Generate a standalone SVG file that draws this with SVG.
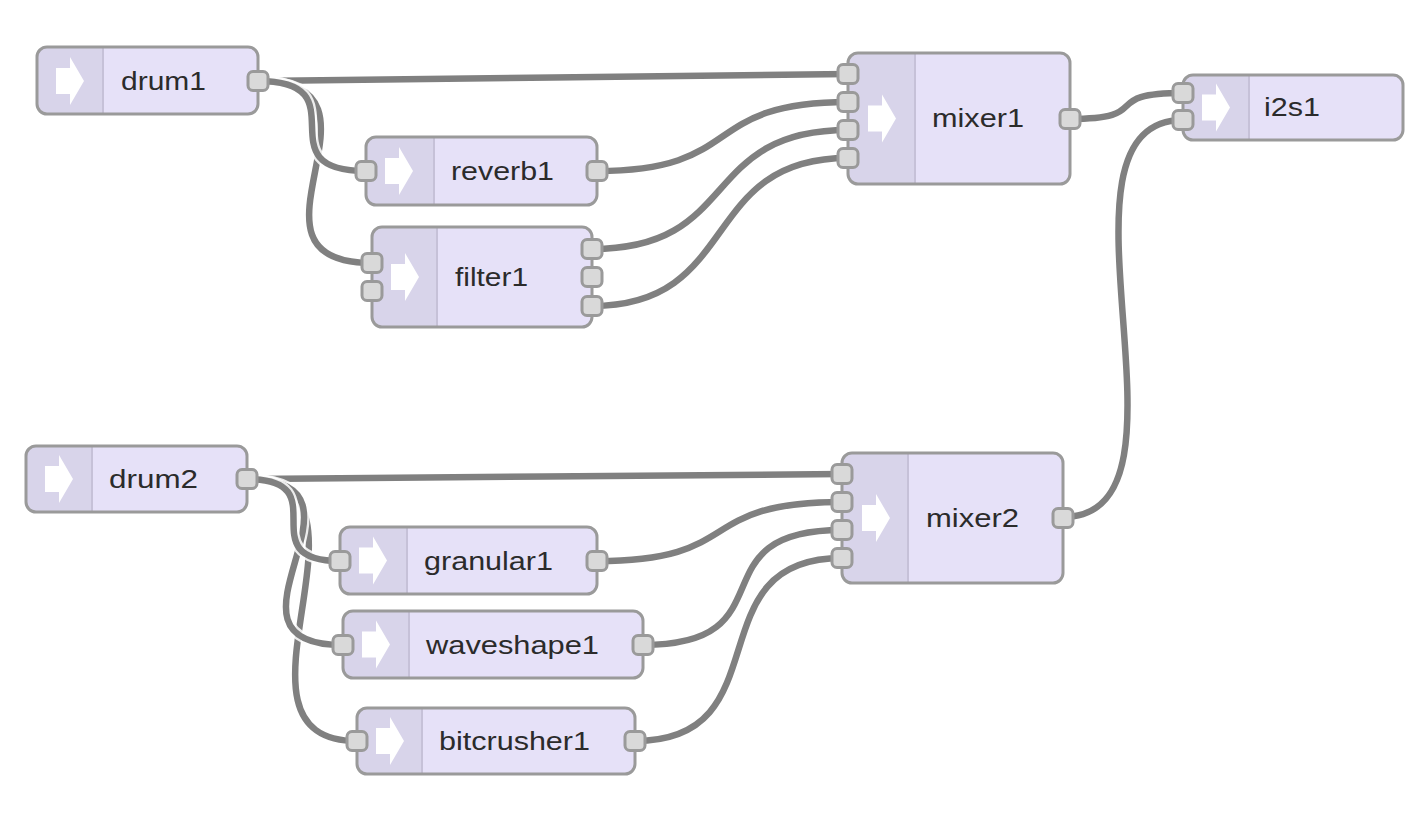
<svg xmlns="http://www.w3.org/2000/svg" width="1428" height="818" viewBox="0 0 1428 818">
<defs>
<style>
.body{fill:#e6e1f8;}
.shade{fill:#d8d4ea;}
.div{stroke:#c6c1d8;stroke-width:2;}
.border{fill:none;stroke:#9a9a9a;stroke-width:3;}
.port{fill:#d9d9d9;stroke:#9a9a9a;stroke-width:3;}
.lbl{font-family:"Liberation Sans",Arial,Helvetica,sans-serif;font-size:26px;fill:#2b2b2b;}
.icon{fill:#fff;filter:url(#soft);}
.wo{fill:none;stroke:#fff;stroke-width:11;stroke-opacity:0.85;}
.wl{fill:none;stroke:#808080;stroke-width:6.5;stroke-linecap:round;}
</style>
<filter id="soft" x="-20%" y="-20%" width="140%" height="140%"><feGaussianBlur stdDeviation="0.7"/></filter>
<path id="arr" d="M0,-13 H14 V-24 L28,0 L14,24 V13 H0 Z"/>
</defs>
<rect width="1428" height="818" fill="#fff"/>

<g id="connectors">
<path class="wo" d="M258,81 C408,81 698,74 848,74"/><path class="wl" d="M258,81 C408,81 698,74 848,74"/>
<path class="wo" d="M258,81 C408,81 222,263 372,263"/><path class="wl" d="M258,81 C408,81 222,263 372,263"/>
<path class="wo" d="M258,81 C363.5,81 260.5,171 366,171"/><path class="wl" d="M258,81 C363.5,81 260.5,171 366,171"/>
<path class="wo" d="M597,171 C747,171 698,102 848,102"/><path class="wl" d="M597,171 C747,171 698,102 848,102"/>
<path class="wo" d="M592,249 C742,249 698,130 848,130"/><path class="wl" d="M592,249 C742,249 698,130 848,130"/>
<path class="wo" d="M592,306 C742,306 698,158 848,158"/><path class="wl" d="M592,306 C742,306 698,158 848,158"/>
<path class="wo" d="M1070,119 C1157,119 1096,93 1183,93"/><path class="wl" d="M1070,119 C1157,119 1096,93 1183,93"/>
<path class="wo" d="M1063,517 C1213,517 1033,120 1183,120"/><path class="wl" d="M1063,517 C1213,517 1033,120 1183,120"/>
<path class="wo" d="M247,479 C397,479 692,474 842,474"/><path class="wl" d="M247,479 C397,479 692,474 842,474"/>
<path class="wo" d="M247,479 C397,479 207,741 357,741"/><path class="wl" d="M247,479 C397,479 207,741 357,741"/>
<path class="wo" d="M247,479 C391,479 199,645 343,645"/><path class="wl" d="M247,479 C391,479 199,645 343,645"/>
<path class="wo" d="M247,479 C340,479 247,561 340,561"/><path class="wl" d="M247,479 C340,479 247,561 340,561"/>
<path class="wo" d="M597,561 C747,561 692,502 842,502"/><path class="wl" d="M597,561 C747,561 692,502 842,502"/>
<path class="wo" d="M643,645 C793,645 692,530 842,530"/><path class="wl" d="M643,645 C793,645 692,530 842,530"/>
<path class="wo" d="M635,741 C785,741 692,558 842,558"/><path class="wl" d="M635,741 C785,741 692,558 842,558"/>
</g>

<g id="drum1">
<rect class="body" x="37" y="47" width="221" height="67" rx="10"/>
<path class="shade" d="M47,47 H103 V114 H47 A10,10 0 0 1 37,104 V57 A10,10 0 0 1 47,47 Z"/>
<line class="div" x1="103" y1="48" x2="103" y2="113"/>
<rect class="border" x="37" y="47" width="221" height="67" rx="10"/>
<use href="#arr" class="icon" x="56" y="81"/>
<text class="lbl" x="121" y="89.5" textLength="85" lengthAdjust="spacingAndGlyphs">drum1</text>
<rect class="port" x="248" y="71.5" width="20" height="19" rx="5"/>
</g>

<g id="reverb1">
<rect class="body" x="366" y="137" width="231" height="68" rx="10"/>
<path class="shade" d="M376,137 H434 V205 H376 A10,10 0 0 1 366,195 V147 A10,10 0 0 1 376,137 Z"/>
<line class="div" x1="434" y1="138" x2="434" y2="204"/>
<rect class="border" x="366" y="137" width="231" height="68" rx="10"/>
<use href="#arr" class="icon" x="385" y="171"/>
<text class="lbl" x="451" y="180" textLength="103" lengthAdjust="spacingAndGlyphs">reverb1</text>
<rect class="port" x="356" y="161.5" width="20" height="19" rx="5"/>
<rect class="port" x="587" y="161.5" width="20" height="19" rx="5"/>
</g>

<g id="filter1">
<rect class="body" x="372" y="227" width="220" height="100" rx="10"/>
<path class="shade" d="M382,227 H437 V327 H382 A10,10 0 0 1 372,317 V237 A10,10 0 0 1 382,227 Z"/>
<line class="div" x1="437" y1="228" x2="437" y2="326"/>
<rect class="border" x="372" y="227" width="220" height="100" rx="10"/>
<use href="#arr" class="icon" x="391" y="277"/>
<text class="lbl" x="455" y="286" textLength="73" lengthAdjust="spacingAndGlyphs">filter1</text>
<rect class="port" x="362" y="253.5" width="20" height="19" rx="5"/>
<rect class="port" x="362" y="281.5" width="20" height="19" rx="5"/>
<rect class="port" x="582" y="239.5" width="20" height="19" rx="5"/>
<rect class="port" x="582" y="267.5" width="20" height="19" rx="5"/>
<rect class="port" x="582" y="296.5" width="20" height="19" rx="5"/>
</g>

<g id="mixer1">
<rect class="body" x="848" y="53" width="222" height="131" rx="10"/>
<path class="shade" d="M858,53 H915 V184 H858 A10,10 0 0 1 848,174 V63 A10,10 0 0 1 858,53 Z"/>
<line class="div" x1="915" y1="54" x2="915" y2="183"/>
<rect class="border" x="848" y="53" width="222" height="131" rx="10"/>
<use href="#arr" class="icon" x="868" y="118.5"/>
<text class="lbl" x="932" y="127" textLength="92" lengthAdjust="spacingAndGlyphs">mixer1</text>
<rect class="port" x="838" y="64.5" width="20" height="19" rx="5"/>
<rect class="port" x="838" y="92.5" width="20" height="19" rx="5"/>
<rect class="port" x="838" y="120.5" width="20" height="19" rx="5"/>
<rect class="port" x="838" y="148.5" width="20" height="19" rx="5"/>
<rect class="port" x="1060" y="109.5" width="20" height="19" rx="5"/>
</g>

<g id="i2s1">
<rect class="body" x="1183" y="75" width="220" height="65" rx="10"/>
<path class="shade" d="M1193,75 H1249 V140 H1193 A10,10 0 0 1 1183,130 V85 A10,10 0 0 1 1193,75 Z"/>
<line class="div" x1="1249" y1="76" x2="1249" y2="139"/>
<rect class="border" x="1183" y="75" width="220" height="65" rx="10"/>
<use href="#arr" class="icon" x="1202" y="107.5"/>
<text class="lbl" x="1264" y="116" textLength="56" lengthAdjust="spacingAndGlyphs">i2s1</text>
<rect class="port" x="1173" y="83.5" width="20" height="19" rx="5"/>
<rect class="port" x="1173" y="110.5" width="20" height="19" rx="5"/>
</g>

<g id="drum2">
<rect class="body" x="26" y="446" width="221" height="66" rx="10"/>
<path class="shade" d="M36,446 H92 V512 H36 A10,10 0 0 1 26,502 V456 A10,10 0 0 1 36,446 Z"/>
<line class="div" x1="92" y1="447" x2="92" y2="511"/>
<rect class="border" x="26" y="446" width="221" height="66" rx="10"/>
<use href="#arr" class="icon" x="45" y="479"/>
<text class="lbl" x="109" y="488" textLength="89" lengthAdjust="spacingAndGlyphs">drum2</text>
<rect class="port" x="237" y="469.5" width="20" height="19" rx="5"/>
</g>

<g id="granular1">
<rect class="body" x="340" y="527" width="257" height="67" rx="10"/>
<path class="shade" d="M350,527 H407 V594 H350 A10,10 0 0 1 340,584 V537 A10,10 0 0 1 350,527 Z"/>
<line class="div" x1="407" y1="528" x2="407" y2="593"/>
<rect class="border" x="340" y="527" width="257" height="67" rx="10"/>
<use href="#arr" class="icon" x="359" y="560.5"/>
<text class="lbl" x="424" y="569.5" textLength="129" lengthAdjust="spacingAndGlyphs">granular1</text>
<rect class="port" x="330" y="551.5" width="20" height="19" rx="5"/>
<rect class="port" x="587" y="551.5" width="20" height="19" rx="5"/>
</g>

<g id="waveshape1">
<rect class="body" x="343" y="611" width="300" height="67" rx="10"/>
<path class="shade" d="M353,611 H409 V678 H353 A10,10 0 0 1 343,668 V621 A10,10 0 0 1 353,611 Z"/>
<line class="div" x1="409" y1="612" x2="409" y2="677"/>
<rect class="border" x="343" y="611" width="300" height="67" rx="10"/>
<use href="#arr" class="icon" x="362" y="644.5"/>
<text class="lbl" x="426" y="653.5" textLength="173" lengthAdjust="spacingAndGlyphs">waveshape1</text>
<rect class="port" x="333" y="635.5" width="20" height="19" rx="5"/>
<rect class="port" x="633" y="635.5" width="20" height="19" rx="5"/>
</g>

<g id="bitcrusher1">
<rect class="body" x="357" y="708" width="278" height="66" rx="10"/>
<path class="shade" d="M367,708 H422 V774 H367 A10,10 0 0 1 357,764 V718 A10,10 0 0 1 367,708 Z"/>
<line class="div" x1="422" y1="709" x2="422" y2="773"/>
<rect class="border" x="357" y="708" width="278" height="66" rx="10"/>
<use href="#arr" class="icon" x="376" y="741"/>
<text class="lbl" x="439" y="750" textLength="151" lengthAdjust="spacingAndGlyphs">bitcrusher1</text>
<rect class="port" x="347" y="731.5" width="20" height="19" rx="5"/>
<rect class="port" x="625" y="731.5" width="20" height="19" rx="5"/>
</g>

<g id="mixer2">
<rect class="body" x="842" y="453" width="221" height="130" rx="10"/>
<path class="shade" d="M852,453 H908 V583 H852 A10,10 0 0 1 842,573 V463 A10,10 0 0 1 852,453 Z"/>
<line class="div" x1="908" y1="454" x2="908" y2="582"/>
<rect class="border" x="842" y="453" width="221" height="130" rx="10"/>
<use href="#arr" class="icon" x="862" y="518"/>
<text class="lbl" x="926" y="527" textLength="93" lengthAdjust="spacingAndGlyphs">mixer2</text>
<rect class="port" x="832" y="464.5" width="20" height="19" rx="5"/>
<rect class="port" x="832" y="492.5" width="20" height="19" rx="5"/>
<rect class="port" x="832" y="520.5" width="20" height="19" rx="5"/>
<rect class="port" x="832" y="548.5" width="20" height="19" rx="5"/>
<rect class="port" x="1053" y="508.5" width="20" height="19" rx="5"/>
</g>
</svg>
